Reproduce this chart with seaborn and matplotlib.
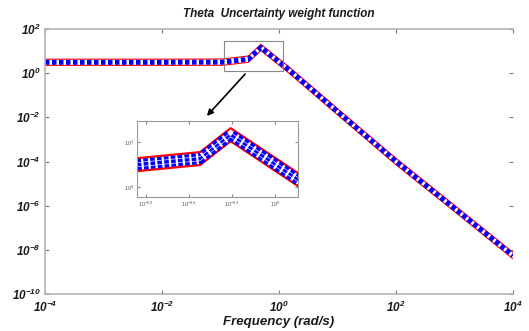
import numpy as np
import pandas as pd
import seaborn as sns
import matplotlib.pyplot as plt
import matplotlib.transforms as mtransforms
from matplotlib.patches import Rectangle

# values (rad/s, magnitude)
freq = [1e-4, 1e-3, 1e-2, 0.05, 0.11, 0.30, 0.49, 1.45, 10, 100, 1e3, 1e4]
upper = [4.3, 4.3, 4.3, 4.35, 4.4, 6.0, 20.4, 2.04, 0.025, 1.4e-4, 1.05e-6, 7.7e-9]
nominal = [3.1, 3.1, 3.1, 3.15, 3.16, 4.3, 14.6, 1.46, 0.018, 1.0e-4, 7.5e-7, 5.5e-9]
lower = [2.25, 2.25, 2.25, 2.26, 2.27, 3.1, 10.5, 1.05, 0.013, 7.1e-5, 5.4e-7, 3.9e-9]

main_xticks = [1e-4, 1e-2, 1e0, 1e2, 1e4]
main_yticks = [1e-10, 1e-8, 1e-6, 1e-4, 1e-2, 1e0, 1e2]
inset_xticks = [10**-0.9, 10**-0.6, 10**-0.3, 10**0.0]
inset_xlabels = ["-0.9", "-0.6", "-0.3", "0"]
inset_yticks = [1e0, 1e1]

df = pd.DataFrame({"freq": freq, "upper": upper, "nominal": nominal, "lower": lower})

sns.set_style("ticks")
plt.rcParams["font.family"] = ["Liberation Sans", "DejaVu Sans"]
plt.rcParams["mathtext.default"] = "regular"

fig = plt.figure(figsize=(5.29, 3.31), dpi=100)
ax = fig.add_axes([45 / 529, 1 - 294 / 331, 468 / 529, 265 / 331])

gray = "#b5b5b5"
txt = "#1a1a1a"


def draw_band(a, lw_red, lw_blue, dash, rows=False):
    sns.lineplot(data=df, x="freq", y="upper", ax=a, color="red", lw=lw_red,
                 sort=False, estimator=None)
    sns.lineplot(data=df, x="freq", y="lower", ax=a, color="red", lw=lw_red,
                 sort=False, estimator=None)
    sns.lineplot(data=df, x="freq", y="nominal", ax=a, color="blue", lw=lw_blue,
                 sort=False, estimator=None, dashes=False)
    a.lines[-1].set_dashes(dash)
    a.lines[-1].set_dash_capstyle("butt")
    if rows:
        # thin white separators give the stacked-dash look of the reference
        for off in (-1.5, 1.5):
            tr = a.transData + mtransforms.ScaledTranslation(0, off / 72, fig.dpi_scale_trans)
            a.plot(df["freq"], df["nominal"], color="white", lw=0.45, transform=tr)


draw_band(ax, 0.8, 3.6, (0.9, 0.5))

ax.set_xscale("log")
ax.set_yscale("log")
ax.set_xlim(1e-4, 1e4)
ax.set_ylim(1e-10, 1e2)
ax.set_xticks(main_xticks)
ax.set_yticks(main_yticks)
ax.minorticks_off()
ax.set_xticklabels([f"$10^{{{int(np.log10(v))}}}$" for v in main_xticks])
ax.set_yticklabels([f"$10^{{{int(np.log10(v))}}}$" for v in main_yticks])
for lab in ax.get_xticklabels() + ax.get_yticklabels():
    lab.set_fontweight("bold")
    lab.set_fontstyle("italic")
    lab.set_fontsize(8.5)
    lab.set_color(txt)
ax.tick_params(direction="in", length=3, color="#777777", top=True, right=True, pad=3)
ax.tick_params(axis="x", pad=4)
for s in ax.spines.values():
    s.set_color(gray)
    s.set_linewidth(1.2)
ax.spines["right"].set_visible(False)

ax.set_xlabel("Frequency (rad/s)", fontsize=9.5, fontweight="bold", fontstyle="italic",
              color=txt, labelpad=1)
ax.set_ylabel("")
ax.set_title("Theta  Uncertainty weight function", fontsize=8.5, fontweight="bold",
             fontstyle="italic", color=txt, pad=9)

# zoom rectangle on the peak
ax.add_patch(Rectangle((10**-0.94, 10**0.09), 10**0.07 - 10**-0.94, 10**1.45 - 10**0.09,
                       fill=False, ec="#888888", lw=0.8, zorder=5))

# arrow to the inset
ax.annotate("", xy=(205 / 529, 1 - 118 / 331), xycoords="figure fraction",
            xytext=(247 / 529, 1 - 72 / 331), textcoords="figure fraction",
            arrowprops=dict(arrowstyle="-|>", color="black", lw=1.2, mutation_scale=9))

# inset
ins = fig.add_axes([137 / 529, 1 - 197 / 331, 161 / 529, 76 / 331])
draw_band(ins, 1.6, 8.0, (0.42, 0.2), rows=True)
ins.set_xscale("log")
ins.set_yscale("log")
ins.set_xlim(10**-0.963, 10**0.16)
ins.set_ylim(10**-0.22, 10**1.47)
ins.minorticks_off()
ins.set_xticks(inset_xticks)
ins.set_xticklabels([f"$10^{{{v}}}$" for v in inset_xlabels])
ins.set_yticks(inset_yticks)
ins.set_yticklabels(["$10^{0}$", "$10^{1}$"])
ins.tick_params(direction="in", length=2, labelsize=4, labelcolor="#555555",
                color="#888888", top=True, right=True, pad=2)
for s in ins.spines.values():
    s.set_color("#999999")
    s.set_linewidth(0.8)
ins.set_xlabel("")
ins.set_ylabel("")

fig.savefig("out.png", dpi=100)
